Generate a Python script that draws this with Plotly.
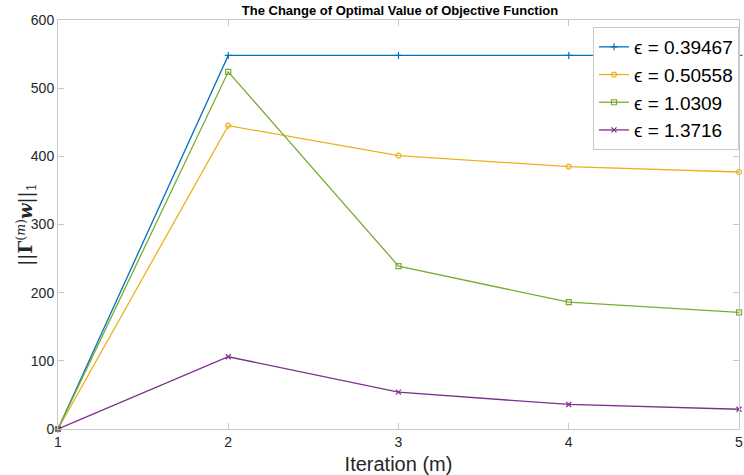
import plotly.graph_objects as go

iterations = [1, 2, 3, 4, 5]
eps_labels = ["ϵ = 0.39467", "ϵ = 0.50558", "ϵ = 1.0309", "ϵ = 1.3716"]
series_a = [0, 548, 548, 548, 548]
series_b = [0, 445, 401, 385, 377]
series_c = [0, 524, 239, 186, 171]
series_d = [0, 106, 54, 36, 29]

colors = ["#0072BD", "#EDB120", "#77AC30", "#7E2F8E"]
symbols = ["cross-thin", "circle-open", "square-open", "x-thin"]

fig = go.Figure()
for name, ys, col, sym in zip(eps_labels, [series_a, series_b, series_c, series_d], colors, symbols):
    fig.add_trace(go.Scatter(
        x=iterations, y=ys, name=name, mode="lines+markers",
        line=dict(color=col, width=1.3),
        marker=dict(symbol=sym, size=5, color=col, line=dict(color=col, width=1.2)),
        cliponaxis=False,
    ))

axis_common = dict(
    showgrid=False, zeroline=False, showline=True, linecolor="#c8c8c8", linewidth=1,
    mirror="ticks", ticks="inside", ticklen=6, tickcolor="#c8c8c8",
    tickfont=dict(family="Liberation Sans, Arial", size=14, color="#262626"),
    ticklabeloverflow="allow",
)

fig.update_layout(
    width=744, height=475,
    margin=dict(l=58, r=1, t=20, b=46),
    paper_bgcolor="white", plot_bgcolor="white",
    title=dict(text="<b>The Change of Optimal Value of Objective Function</b>",
               x=400 / 744, xanchor="center", y=1 - 10 / 475, yanchor="middle",
               font=dict(family="Liberation Sans, Arial", size=13, color="black")),
    xaxis=dict(range=[1, 5], tickvals=iterations, ticktext=["1", "2", "3", "4", "5"],
               title=dict(text="Iteration (m)", standoff=8,
                          font=dict(family="Liberation Sans, Arial", size=20, color="#262626")),
               **axis_common),
    yaxis=dict(range=[0, 600], tickvals=[0, 100, 200, 300, 400, 500, 600], **axis_common),
    legend=dict(x=1, xanchor="right", y=1 - 7 / 409, yanchor="top",
                bgcolor="white", bordercolor="#c8c8c8", borderwidth=1,
                font=dict(family="Liberation Sans, Arial", size=19, color="black"),
                itemwidth=30, tracegroupgap=0),
    showlegend=True,
)

# rotated y-axis label: ||Γ^(m) w||_1
fig.add_annotation(
    text="||<b>Γ</b><sup>(<i>m</i>)</sup><b><i>w</i></b>||<sub>1</sub>",
    xref="paper", yref="paper", x=-33 / 685, y=0.5, xanchor="center", yanchor="middle",
    textangle=-90, showarrow=False,
    font=dict(family="DejaVu Serif, serif", size=18, color="#262626"),
)

fig.write_html("out.html")
